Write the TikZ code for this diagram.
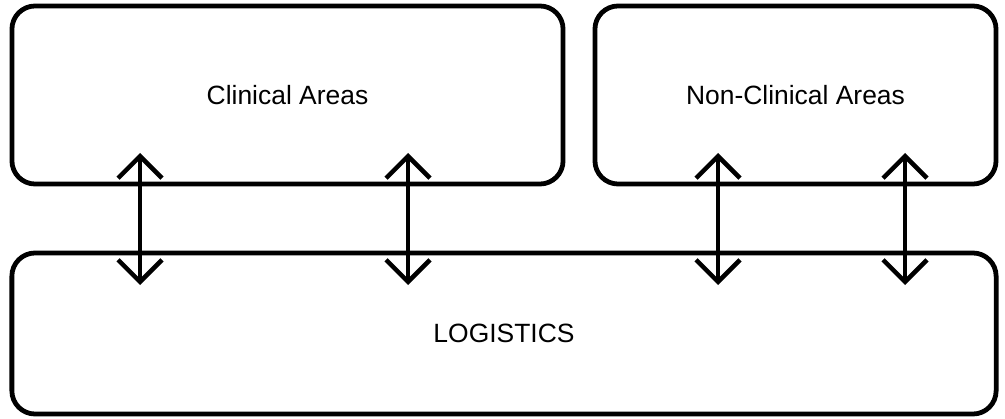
\documentclass[tikz,border=0pt]{standalone}
\usepackage{fontspec}
\setmainfont{Liberation Sans}
\usetikzlibrary{arrows.meta}
\tikzset{
  area/.style={draw=black, line width=3.4pt, rounded corners=0.58cm, inner sep=0pt,
    font=\fontsize{18.8}{22}\selectfont},
  barb/.tip={Straight Barb[length=0.55cm, width=1.1cm, line width=3.2pt]},
  link/.style={draw=black, line width=3pt, barb-barb},
}

\begin{document}
\begin{tikzpicture}[x=0.025cm, y=-0.025cm]
  \useasboundingbox (0,0) rectangle (1005,419);
  \node[area, minimum width=13.775cm, minimum height=4.45cm] (clin) at (287.5,95) {Clinical Areas};
  \node[area, minimum width=10.025cm, minimum height=4.45cm] (nonclin) at (795.5,95) {Non-Clinical Areas};
  \node[area, minimum width=24.6cm, minimum height=4.025cm] (logi) at (504,333.5) {LOGISTICS};
  \foreach \X/\x in {a/140,b/408,c/718,d/905} {
    \coordinate (\X top) at (\x,153);
    \coordinate (\X bot) at (\x,285);
    \draw[link] (\X top) -- (\X bot); % two-way link
  }
\end{tikzpicture}
\end{document}
